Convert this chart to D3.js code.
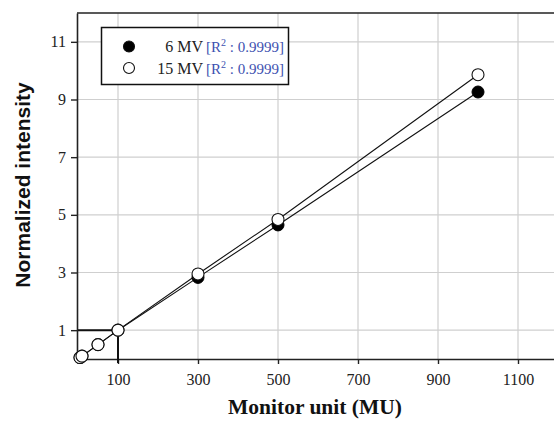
<!DOCTYPE html>
<html>
<head>
<meta charset="utf-8">
<script src="https://cdn.jsdelivr.net/npm/d3@7"></script>
<style>
  body { margin: 0; background: #fff; }
  svg { display: block; }
</style>
</head>
<body>
<svg id="chart" width="554" height="427"></svg>
<script>
// data
const monitorUnits = [5, 10, 50, 100, 300, 500, 1000];
const mv6 = [0.05, 0.1, 0.5, 1, 2.83, 4.65, 9.26];
const mv15 = [0.05, 0.1, 0.5, 1, 2.95, 4.84, 9.86];
const xTicks = [100, 300, 500, 700, 900, 1100];
const yTicks = [1, 3, 5, 7, 9, 11];
const legendLabels = ["6 MV", "15 MV"];
const r2Labels = ["0.9999", "0.9999"];

const svg = d3.select("#chart");
const x = d3.scaleLinear().domain([0, 1200]).range([78, 558]);
const y = d3.scaleLinear().domain([0, 12]).range([359, 13]);

// grid
svg.append("g").selectAll("line").data(xTicks).enter().append("line")
  .attr("x1", d => x(d)).attr("x2", d => x(d))
  .attr("y1", y(12)).attr("y2", y(0))
  .attr("stroke", "#cfcfcf").attr("stroke-width", 1.2);
svg.append("g").selectAll("line").data(yTicks).enter().append("line")
  .attr("x1", x(0)).attr("x2", 554)
  .attr("y1", d => y(d)).attr("y2", d => y(d))
  .attr("stroke", "#cfcfcf").attr("stroke-width", 1.2);

// axes
const xAxis = svg.append("g").attr("transform", `translate(0,${y(0)})`)
  .call(d3.axisBottom(x).tickValues(xTicks).tickFormat(d3.format("d"))
    .tickSize(5).tickPadding(10).tickSizeOuter(0));
const yAxis = svg.append("g").attr("transform", `translate(${x(0) - 1},0)`)
  .call(d3.axisLeft(y).tickValues(yTicks).tickSize(6).tickPadding(5).tickSizeOuter(0));
[xAxis, yAxis].forEach(g => {
  g.select(".domain").attr("stroke", "#222").attr("stroke-width", 1.6);
  g.selectAll(".tick line").attr("stroke", "#222").attr("stroke-width", 1.4);
  g.selectAll(".tick text").attr("font-family", "Liberation Serif, serif")
    .attr("font-size", 16).attr("fill", "#222");
});
// top frame
svg.append("line").attr("x1", x(0) - 1).attr("x2", 554)
  .attr("y1", y(12)).attr("y2", y(12))
  .attr("stroke", "#222").attr("stroke-width", 1.6);

// reference lines at 100 MU
svg.append("path")
  .attr("d", `M${x(0)},${y(1)}H${x(100)}V${y(0) + 4}`)
  .attr("fill", "none").attr("stroke", "#111").attr("stroke-width", 2);

// series lines
const line = d3.line().x(d => x(d[0])).y(d => y(d[1]));
const s6 = monitorUnits.map((m, i) => [m, mv6[i]]);
const s15 = monitorUnits.map((m, i) => [m, mv15[i]]);
svg.append("path").datum(s6).attr("d", line)
  .attr("fill", "none").attr("stroke", "#111").attr("stroke-width", 1.1);
svg.append("path").datum(s15).attr("d", line)
  .attr("fill", "none").attr("stroke", "#111").attr("stroke-width", 1.1);

// markers: filled first, open (white fill) on top
svg.append("g").selectAll("circle").data(s6).enter().append("circle")
  .attr("cx", d => x(d[0])).attr("cy", d => y(d[1])).attr("r", 6)
  .attr("fill", "#000").attr("stroke", "#000");
svg.append("g").selectAll("circle").data(s15).enter().append("circle")
  .attr("cx", d => x(d[0])).attr("cy", d => y(d[1])).attr("r", 6)
  .attr("fill", "#fff").attr("stroke", "#111").attr("stroke-width", 1.1);

// legend
const lg = svg.append("g");
lg.append("rect").attr("x", 101.5).attr("y", 27.5).attr("width", 187).attr("height", 57)
  .attr("fill", "#fff").attr("stroke", "#111").attr("stroke-width", 1.5);
legendLabels.forEach((lab, i) => {
  const cy = 46.5 + i * 21.5;
  lg.append("circle").attr("cx", 129).attr("cy", cy).attr("r", 5.5)
    .attr("fill", i === 0 ? "#000" : "#fff").attr("stroke", "#111").attr("stroke-width", 1.1);
  lg.append("text").attr("x", 203).attr("y", cy + 5.5).attr("text-anchor", "end")
    .attr("font-family", "Liberation Serif, serif").attr("font-size", 16).attr("fill", "#222")
    .text(lab);
  const t = lg.append("text").attr("x", 206).attr("y", cy + 5.5)
    .attr("font-family", "Liberation Serif, serif").attr("font-size", 15).attr("fill", "#3d51b0");
  t.append("tspan").text("[R");
  t.append("tspan").attr("dy", -6).attr("font-size", 10).text("2");
  t.append("tspan").attr("dy", 6).text(" : " + r2Labels[i] + "]");
});

// axis titles
svg.append("text").attr("x", 315).attr("y", 414).attr("text-anchor", "middle")
  .attr("font-family", "Liberation Serif, serif").attr("font-weight", "bold")
  .attr("font-size", 21.5).attr("fill", "#111").text("Monitor unit (MU)");
svg.append("text").attr("transform", "translate(30,185) rotate(-90)")
  .attr("text-anchor", "middle")
  .attr("font-family", "Liberation Sans, Arial, sans-serif").attr("font-weight", "bold")
  .attr("font-size", 21).attr("fill", "#111").text("Normalized intensity");
</script>
</body>
</html>
